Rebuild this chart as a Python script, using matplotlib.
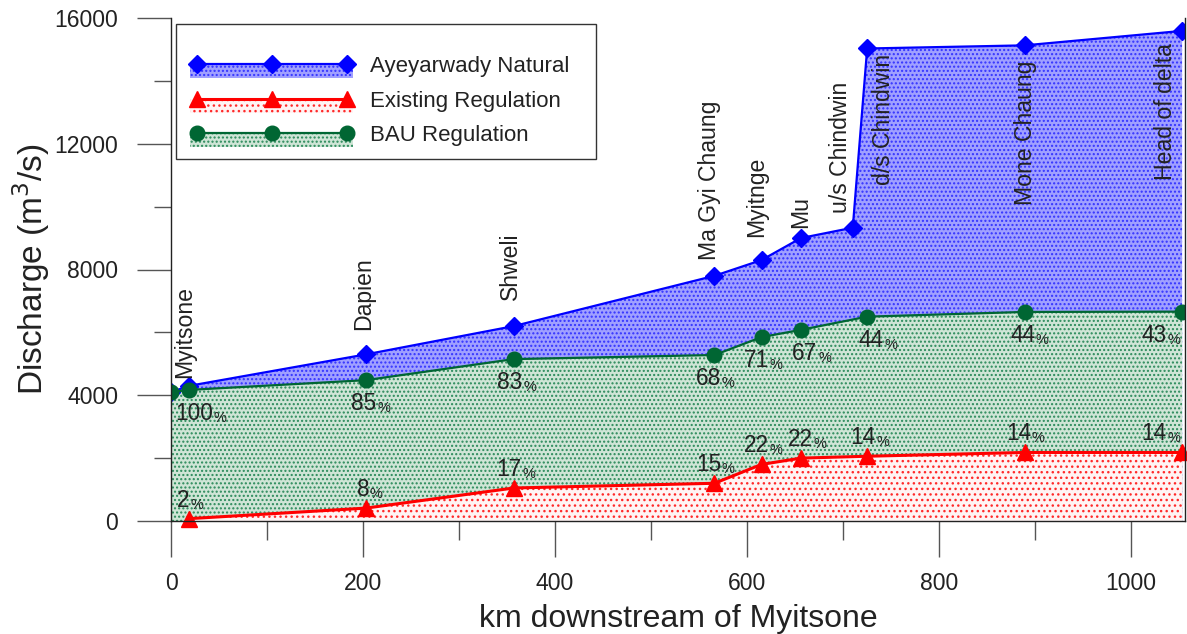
import matplotlib
matplotlib.use('Agg')
import matplotlib.pyplot as plt
from matplotlib.patches import Patch, Rectangle
from matplotlib.lines import Line2D
from matplotlib.legend_handler import HandlerTuple, HandlerPatch
from matplotlib.ticker import MultipleLocator

plt.rcParams['font.family'] = ['Liberation Sans', 'DejaVu Sans']
plt.rcParams['hatch.linewidth'] = 1.0

# ---------------- data ----------------
natural_km = [0, 19, 203, 357, 566, 615, 656, 710, 725, 889, 1053]
natural_q = [4100, 4300, 5300, 6200, 7800, 8300, 9000, 9330, 15030, 15130, 15590]

bau_km = [0, 19, 203, 357, 566, 615, 656, 725, 889, 1053]
bau_q = [4100, 4170, 4480, 5150, 5280, 5850, 6080, 6500, 6650, 6660]
bau_pct = [100, 85, 83, 68, 71, 67, 44, 44, 43]          # at bau_km[1:]

exist_km = [19, 203, 357, 566, 615, 656, 725, 889, 1053]
exist_q = [75, 410, 1050, 1200, 1800, 2000, 2060, 2180, 2180]
exist_pct = [2, 8, 17, 15, 22, 22, 14, 14, 14]

site_names = ['Myitsone', 'Dapien', 'Shweli', 'Ma Gyi Chaung', 'Myitnge', 'Mu',
              'u/s Chindwin', 'd/s Chindwin', 'Mone Chaung', 'Head of delta']
# sites are at natural_km[1:]

x_ticks = [0, 200, 400, 600, 800, 1000]
y_ticks = [0, 4000, 8000, 12000, 16000]

# ---------------- styling ----------------
BLUE = '#0000ff'
RED = '#ff0000'
GREEN = '#006633'
blue_fill = dict(facecolor='#a0a0ff', edgecolor='#3333ff', hatch='....', linewidth=0)
green_fill = dict(facecolor='#cfe5d6', edgecolor='#2a8a5a', hatch='....', linewidth=0)
red_fill = dict(facecolor='#fff4f4', edgecolor='#ff2a2a', hatch='...', linewidth=0)

DPI = 100
fig = plt.figure(figsize=(11.87, 6.34), dpi=DPI)
W, H = 1187, 634
ax = fig.add_axes([171 / W, (H - 521) / H, 1014 / W, 503 / H])

ax.fill_between(natural_km, natural_q, 0, zorder=1, **blue_fill)
ax.fill_between(bau_km, bau_q, 0, zorder=2, **green_fill)
ax.fill_between(exist_km, exist_q, 0, zorder=3, **red_fill)

ax.plot(natural_km, natural_q, color=BLUE, lw=1.6, marker='D', ms=9,
        mfc=BLUE, mec=BLUE, zorder=5)
ax.plot(bau_km, bau_q, color=GREEN, lw=1.6, marker='o', ms=10.5,
        mfc=GREEN, mec=GREEN, zorder=6)
ax.plot(exist_km, exist_q, color=RED, lw=2.2, marker='^', ms=11,
        mfc=RED, mec=RED, zorder=7, clip_on=False)

ax.set_xlim(0, 1056)
ax.set_ylim(0, 16000)

# spines / ticks
ax.spines['top'].set_visible(False)
for s in ['left', 'bottom', 'right']:
    ax.spines[s].set_color('#222222')
    ax.spines[s].set_linewidth(1.0)
    ax.spines[s].set_zorder(8)

ax.set_xticks(x_ticks)
ax.set_yticks(y_ticks)
ax.xaxis.set_minor_locator(MultipleLocator(100))
ax.yaxis.set_minor_locator(MultipleLocator(2000))
ax.tick_params(axis='y', which='major', direction='out', length=24.5, width=1,
               color='#555555', labelsize=16.6, pad=13.5, labelcolor='#222222',
               right=False)
ax.tick_params(axis='y', which='minor', direction='out', length=12.5, width=1,
               color='#555555', right=False)
ax.tick_params(axis='x', which='major', direction='out', length=26, width=1,
               color='#555555', labelsize=16.6, pad=11, labelcolor='#222222')
ax.tick_params(axis='x', which='minor', direction='out', length=13.5, width=1,
               color='#555555')

ax.set_ylabel('Discharge (m$^3$/s)', fontsize=24, color='#222222')
ax.yaxis.set_label_coords(-0.117, 0.5)
ax.set_xlabel('km downstream of Myitsone', fontsize=23, color='#222222')
ax.xaxis.set_label_coords(0.5, -0.165)

# ---------------- percentage labels ----------------
PX = 72.0 / DPI  # points per pixel
green_dx = [5, -2, -4, -6, -5, 4, 4, -2, -28]
red_dx = [-6, -3, -5, -6, -5, -1, -4, -6, -28]


def pct_label(x, y, val, dx, dy):
    t = ax.annotate(str(val), (x, y), xytext=(dx * PX, dy * PX),
                    textcoords='offset points', ha='center', va='baseline',
                    fontsize=16.3, color='#222222', zorder=9)
    ax.annotate('%', xy=(1, 0), xycoords=t, xytext=(0.5, 0),
                textcoords='offset points', ha='left', va='bottom',
                fontsize=10.5, color='#222222', zorder=9)


for x, y, v, dx in zip(bau_km[1:], bau_q[1:], bau_pct, green_dx):
    pct_label(x, y, v, dx, -30)
for x, y, v, dx in zip(exist_km, exist_q, exist_pct, red_dx):
    pct_label(x, y, v, dx, 12)

# ---------------- site labels ----------------
# (dx, dy) in pixels from the natural-flow marker; 'b' = text above, 't' = below
site_off = [(-5, 8, 'b'), (-2, 24, 'b'), (-3, 26, 'b'), (-5, 16, 'b'), (-5, 23, 'b'),
            (0, 10, 'b'), (-12, 15, 'b'), (16, -5, 't'), (1, -15, 't'), (-17, -12, 't')]
for name, x, y, (dx, dy, mode) in zip(site_names, natural_km[1:], natural_q[1:], site_off):
    ax.annotate(name, (x, y), xytext=(dx * PX, dy * PX), textcoords='offset points',
                rotation=90, ha='center', va='bottom' if mode == 'b' else 'top',
                fontsize=16.6, color='#222222', zorder=9)

# ---------------- legend ----------------
def half_rect(legend, orig_handle, xdescent, ydescent, width, height, fontsize):
    yline = (height - ydescent) / 2.0
    return Rectangle((-xdescent, yline - 10), width, 10)


h_nat = (Patch(**blue_fill), Line2D([], [], color=BLUE, lw=1.6, marker='D', ms=9))
h_ex = (Patch(**red_fill), Line2D([], [], color=RED, lw=2.2, marker='^', ms=11))
h_bau = (Patch(**green_fill), Line2D([], [], color=GREEN, lw=1.6, marker='o', ms=10.5))

leg = ax.legend([h_nat, h_ex, h_bau],
                ['Ayeyarwady Natural', 'Existing Regulation', 'BAU Regulation'],
                handler_map={tuple: HandlerTuple(ndivide=1, pad=0),
                             Patch: HandlerPatch(patch_func=half_rect)},
                loc='upper left',
                bbox_to_anchor=((190 - 171) / 1014, (521 - 56) / 503),
                frameon=False, borderpad=0, borderaxespad=0, numpoints=3,
                handlelength=7.35, handletextpad=0.75, labelspacing=0.61,
                fontsize=16, labelcolor='#222222')
leg.set_zorder(12)

frame = Rectangle(((176 - 171) / 1014, (521 - 159) / 503), 420 / 1014, 135 / 503,
                  transform=ax.transAxes, facecolor='white', edgecolor='#333333',
                  lw=1.0, zorder=11)
ax.add_patch(frame)

fig.savefig('out.png', dpi=DPI)
